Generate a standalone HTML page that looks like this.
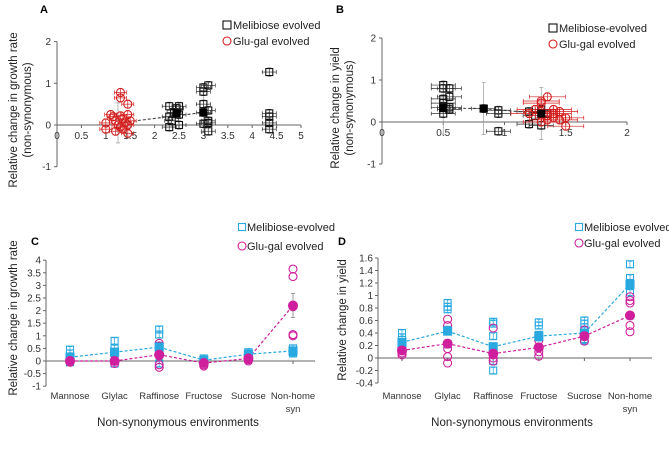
<!DOCTYPE html>
<html><head><meta charset="utf-8"><style>
body{margin:0;background:#fff}
svg{display:block;font-family:"Liberation Sans",Arial,sans-serif}
</style></head><body>
<svg id="fig" width="669" height="449" viewBox="0 0 669 449" xmlns="http://www.w3.org/2000/svg">
<text x="40" y="13" font-size="11" font-weight="bold">A</text>
<text x="336" y="13" font-size="11" font-weight="bold">B</text>
<text x="31" y="245" font-size="11" font-weight="bold">C</text>
<text x="338" y="245" font-size="11" font-weight="bold">D</text>
</svg>
<script>
// ---- Panel A data ----
const aMeliX=[2.3,2.3,2.3,2.35,2.4,2.5,2.5,2.5,2.45,3.0,3.0,3.1,3.0,3.0,3.1,3.0,3.1,3.1,3.1,4.35,4.35,4.35,4.35,4.35];
const aMeliY=[0.45,0.2,-0.05,0.1,0.3,0.45,0.25,0.0,0.4,0.8,0.9,0.95,0.5,0.3,0.35,0.03,0.1,-0.15,0.05,1.27,0.28,0.2,0.05,-0.1];
const aGluX=[1.3,1.3,1.1,1.3,1.45,1.45,1.0,1.0,1.2,1.25,1.3,1.35,1.4,1.45,1.45,1.2,1.35,1.5,1.15];
const aGluY=[0.78,0.65,0.25,0.22,0.5,0.25,0.05,-0.1,0.1,0.0,-0.05,0.15,0.05,-0.2,0.0,-0.15,-0.1,0.1,0.2];
const aMeanX=[2.45,3.0];
const aMeanY=[0.28,0.3];
const aXTicks=["0","0.5","1","1.5","2","2.5","3","3.5","4","4.5","5"];
const aYTicks=["-1","0","1","2"];
// ---- Panel B data ----
const bMeliX=[0.5,0.5,0.55,0.5,0.55,0.5,0.5,0.55,0.5,0.55,0.83,0.95,0.95,0.95,1.2,1.2,1.3,1.3,1.35,1.25];
const bMeliY=[0.88,0.8,0.8,0.55,0.6,0.45,0.35,0.35,0.2,0.3,0.32,0.28,0.2,-0.22,0.25,-0.05,0.3,-0.08,0.2,0.15];
const bGluX=[1.3,1.35,1.3,1.4,1.45,1.3,1.35,1.4,1.45,1.5,1.3,1.4,1.25,1.5,1.35,1.2];
const bGluY=[0.5,0.6,0.45,0.3,0.25,0.25,0.15,0.1,0.05,-0.1,0.0,0.2,0.3,0.1,0.05,0.2];
const bMeanX=[0.5,0.83,1.3];
const bMeanY=[0.33,0.32,0.2];
const bXTicks=["0","0.5","1","1.5","2"];
const bYTicks=["-1","0","1","2"];
// ---- Panel C/D data ----
const categories=["Mannose","Glylac","Raffinose","Fructose","Sucrose","Non-home"];
const cMeliMean=[0.15,0.35,0.55,0.03,0.27,0.4];
const cGluMean=[0,0,0.25,-0.08,0.1,2.2];
const cMeliPts=[[0.45,0.3,0.1,-0.05],[0.8,0.5,0.3,-0.1],[1.25,1.05,0.6,0.3,-0.1],[0.1,0.0,-0.05],[0.35,0.25,0.2],[0.5,0.4,0.35,0.3]];
const cGluPts=[[0.05,-0.05],[0.25,0,-0.1],[0.7,0.6,0.45,0.2,-0.15,-0.25],[-0.05,-0.15,-0.2],[0.2,0.05,0.0],[3.65,3.35,2.2,2.15,1.05,1.0]];
const cYTicks=["-1","-0.5","0","0.5","1","1.5","2","2.5","3","3.5","4"];
const dMeliMean=[0.25,0.43,0.18,0.35,0.4,1.18];
const dGluMean=[0.12,0.23,0.07,0.17,0.35,0.68];
const dMeliPts=[[0.4,0.33,0.25,0.2],[0.88,0.82,0.78,0.45,0.22],[0.58,0.55,0.35,0.1,-0.05,-0.2],[0.57,0.52,0.37,0.33],[0.6,0.55,0.45,0.3,0.28],[1.5,1.28,1.2,1.15,1.05]];
const dGluPts=[[0.18,0.08,0.05],[0.62,0.52,0.15,0.02,-0.08],[0.48,0.05,0,-0.05],[0.28,0.1,0.03],[0.45,0.38,0.27],[0.98,0.92,0.88,0.52,0.42]];
const dYTicks=["-0.4","-0.2","0","0.2","0.4","0.6","0.8","1","1.2","1.4","1.6"];

const svg=document.getElementById('fig');
const NS="http://www.w3.org/2000/svg";
function mk(tag,attrs,parent){const e=document.createElementNS(NS,tag);for(const k in attrs)e.setAttribute(k,attrs[k]);(parent||svg).appendChild(e);return e;}
function line(x1,y1,x2,y2,st,w,dash){return mk('line',{x1,y1,x2,y2,stroke:st,'stroke-width':w||1,'stroke-dasharray':dash||'none'});}
function txt(x,y,s,size,anchor,fill){const t=mk('text',{x,y,'font-size':size,'text-anchor':anchor||'middle',fill:fill||'#333'});t.textContent=s;return t;}
function sq(x,y,s,col,fill){return mk('rect',{x:x-s/2,y:y-s/2,width:s,height:s,fill:fill||'none',stroke:col,'stroke-width':1.1});}
function circ(x,y,r,col,fill){return mk('circle',{cx:x,cy:y,r,fill:fill||'none',stroke:col,'stroke-width':1.1});}
function errbar(x,y,dx,dy,col){
  if(dx){line(x-dx,y,x+dx,y,col,0.7);line(x-dx,y-2,x-dx,y+2,col,0.7);line(x+dx,y-2,x+dx,y+2,col,0.7);}
  if(dy){line(x,y-dy,x,y+dy,col,0.7);line(x-2,y-dy,x+2,y-dy,col,0.7);line(x-2,y+dy,x+2,y+dy,col,0.7);}
}

function scatter(cfg){
  const X=v=>cfg.x0+v*cfg.xs, Y=v=>cfg.y0-v*cfg.ys;
  const ax=line(cfg.x0,Y(cfg.ymin),cfg.x0,Y(cfg.ymax),'#666',1);
  
  const bx=line(cfg.x0,cfg.y0,X(cfg.xmax),cfg.y0,'#666',1);
  
  cfg.yt.forEach(s=>{const v=+s;line(cfg.x0-3,Y(v),cfg.x0,Y(v),'#666',1);const t=txt(cfg.x0-6,Y(v)+3.5,s,10,'end');
    });
  cfg.xt.forEach(s=>{const v=+s;line(X(v),cfg.y0,X(v),cfg.y0+3,'#666',1);const t=txt(X(v),cfg.y0+14,s,10);
    });
  for(let i=0;i<cfg.mx.length-1;i++){const l=line(X(cfg.mx[i]),Y(cfg.my[i]),X(cfg.mx[i+1]),Y(cfg.my[i+1]),'#444',1.1,'3,2');
    }
  cfg.mx.forEach((v,i)=>{errbar(X(v),Y(cfg.my[i]),0,cfg.bigdy,'#999');});
  cfg.mxs.forEach((v,i)=>{const x=X(v),y=Y(cfg.mys[i]);errbar(x,y,cfg.edx,cfg.edy,'#333');const r=sq(x,y,7,'#111');
    });
  cfg.gxs.forEach((v,i)=>{const x=X(v),y=Y(cfg.gys[i]);errbar(x,y,cfg.gedx,cfg.edy,'#d42020');const c=circ(x,y,4,'#d42020');
    });
  cfg.mex.forEach((v,i)=>{const r=sq(X(v),Y(cfg.mey[i]),7,'#000','#000');
    });
  const l1=sq(cfg.lx,cfg.ly,8,'#111');
  const t1=txt(cfg.lx+6,cfg.ly+4,cfg.lt,11,'start','#222');
  const l2=circ(cfg.lx,cfg.ly+16,4,'#d42020');
  const t2=txt(cfg.lx+6,cfg.ly+20,'Glu-gal evolved',11,'start','#222');
  const xt=txt(cfg.xtx,cfg.xty,cfg.xtitle,11.5,'middle','#222');
  const g=mk('g',{transform:`translate(${cfg.ytx},${cfg.yty}) rotate(-90)`});
  
  g.appendChild(txt(0,0,cfg.ytitle,11.5,'middle','#222'));
  g.appendChild(txt(0,14,'(non-synonymous)',11.5,'middle','#222'));
}
scatter({p:'a',x0:57,xs:48.8,y0:125,ys:41.7,ymin:-1,ymax:2,xmax:5,xt:aXTicks,yt:aYTicks,
  mx:[1.25,3.0],my:[0.05,0.3],bigdy:20,mex:aMeanX,mey:aMeanY,
  mxs:aMeliX,mys:aMeliY,gxs:aGluX,gys:aGluY,edx:7,gedx:6,edy:4,
  lx:227,ly:25,lt:'Melibiose evolved',xtx:175,xty:168,
  ytitle:'Relative change in growth rate',ytx:17,yty:110});
scatter({p:'b',x0:382,xs:122.5,y0:122,ys:42,ymin:-1,ymax:2,xmax:2,xt:bXTicks,yt:bYTicks,
  mx:[0.5,0.83,1.3],my:[0.33,0.32,0.2],bigdy:26,mex:bMeanX,mey:bMeanY,
  mxs:bMeliX,mys:bMeliY,gxs:bGluX,gys:bGluY,edx:12,gedx:18,edy:4,
  lx:553,ly:28,lt:'Melibiose-evolved',xtx:505,xty:168,
  ytitle:'Relative change in yield',ytx:339,yty:108});

const MC='#29a9e0', GC='#cf1f9c';
function catPanel(cfg){
  const Y=v=>cfg.y0-v*cfg.ys;
  const a=line(cfg.x0,Y(cfg.ymin),cfg.x0,Y(cfg.ymax),'#666',1);
  const b=line(cfg.x0,cfg.y0,cfg.xend,cfg.y0,'#666',1);
  cfg.yt.forEach(s=>{const v=+s;line(cfg.x0-3,Y(v),cfg.x0,Y(v),'#666',1);const t=txt(cfg.x0-5,Y(v)+3.5,s,10,'end');
    });
  const X=i=>cfg.cx0+i*cfg.cdx;
  categories.forEach((c,i)=>{line(X(i),cfg.y0,X(i),cfg.y0+3,'#666',1);
    const t=txt(X(i),cfg.labY,c,9.5,'middle','#333');
    if(c==='Non-home'){const s=txt(X(i),cfg.labY+13,'syn',9.5,'middle','#333');}});
  [[cfg.mm,MC,'melibiose'],[cfg.gm,GC,'glugal']].forEach(([m,col,nm])=>{
    for(let i=0;i<m.length-1;i++){const l=line(X(i),Y(m[i]),X(i+1),Y(m[i+1]),col,1.2,'3,2');
      }});
  cfg.mp.forEach((arr,i)=>arr.forEach(v=>{errbar(X(i),Y(v),0,3,MC);const r=sq(X(i),Y(v),7,MC);
    }));
  cfg.gp.forEach((arr,i)=>arr.forEach(v=>{const c=circ(X(i),Y(v),4,GC);
    }));
  cfg.mm.forEach((v,i)=>{errbar(X(i),Y(v),0,4,'#555');const r=sq(X(i),Y(v),8,MC,MC);
    });
  cfg.gm.forEach((v,i)=>{errbar(X(i),Y(v),0,i===5&&cfg.p==='c'?12:4,'#777');const c=circ(X(i),Y(v),4.5,GC,GC);
    });
  const l1=sq(cfg.lx,cfg.ly,7,MC);
  const t1=txt(cfg.lx+5,cfg.ly+4,cfg.lt,11,'start','#222');
  const l2=circ(cfg.lx,cfg.ly+cfg.lg,4,GC);
  const t2=txt(cfg.lx+5,cfg.ly+cfg.lg+4,'Glu-gal evolved',11,'start','#222');
  const xt=txt(cfg.xtx,cfg.labY+27,'Non-synonymous environments',11.5,'middle','#222');
  const yt=mk('text',{x:0,y:0,'font-size':11.5,'text-anchor':'middle',fill:'#222',transform:`translate(${cfg.ytx},${cfg.yty}) rotate(-90)`});
  yt.textContent=cfg.ytitle;
}
catPanel({p:'c',x0:46,y0:361,ys:25.2,ymin:-1,ymax:4,xend:315,yt:cYTicks,cx0:70,cdx:44.6,labY:399,
  mm:cMeliMean,gm:cGluMean,mp:cMeliPts,gp:cGluPts,lx:242,ly:227,lg:19,lt:'Melibiose-evolved',xtx:178,ytx:17,yty:318,
  ytitle:'Relative change in growth rate'});
catPanel({p:'d',x0:378,y0:358,ys:62.5,ymin:-0.4,ymax:1.6,xend:652,yt:dYTicks,cx0:402,cdx:45.6,labY:399,
  mm:dMeliMean,gm:dGluMean,mp:dMeliPts,gp:dGluPts,lx:579,ly:227,lg:16,lt:'Melibiose evolved',xtx:512,ytx:346,yty:320,
  ytitle:'Relative change in yield'});
</script>
</body></html>
